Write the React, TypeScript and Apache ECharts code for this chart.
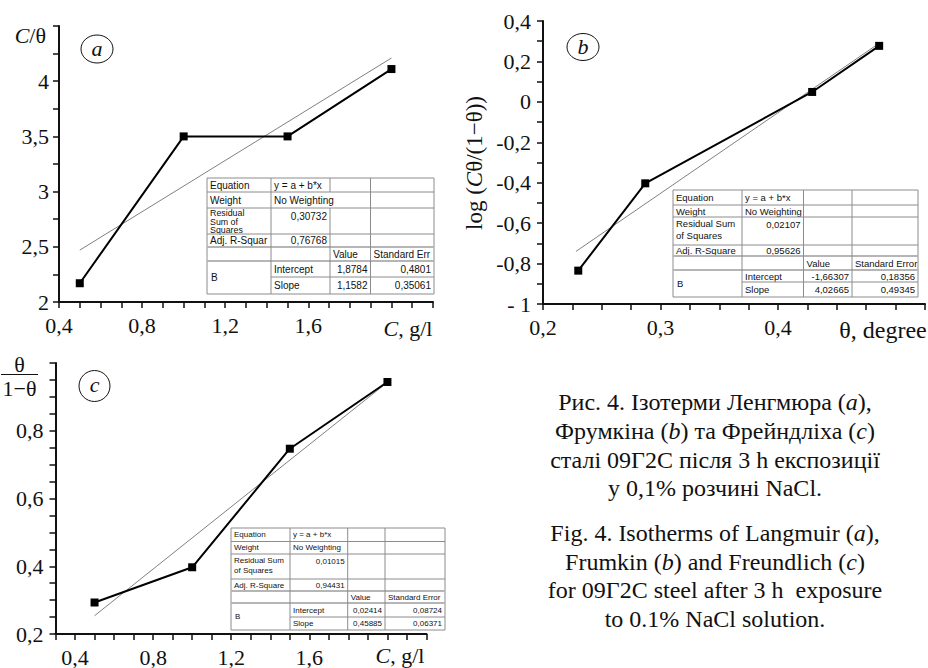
import React, { useEffect, useRef } from 'react';
import * as echarts from 'echarts';

// ---------- data: plot a (Langmuir) ----------
const aX = [0.5, 1.0, 1.5, 2.0];
const aY = [2.17, 3.5, 3.5, 4.11];
const aFitX = [0.5, 2.0];
const aFitY = [2.47, 4.21];
const aXTicks = [0.4, 0.8, 1.2, 1.6];
const aXTickLabels = ['0,4', '0,8', '1,2', '1,6'];
const aYTicks = [2, 2.5, 3, 3.5, 4];
const aYTickLabels = ['2', '2,5', '3', '3,5', '4'];

// ---------- data: plot b (Frumkin) ----------
const bX = [0.23, 0.287, 0.429, 0.486];
const bY = [-0.835, -0.403, 0.049, 0.277];
const bFitX = [0.228, 0.486];
const bFitY = [-0.74, 0.29];
const bXTicks = [0.2, 0.3, 0.4];
const bXTickLabels = ['0,2', '0,3', '0,4'];
const bYTicks = [-1, -0.8, -0.6, -0.4, -0.2, 0, 0.2, 0.4];
const bYTickLabels = ['- 1', '-0,8', '-0,6', '-0,4', '-0,2', '0', '0,2', '0,4'];

// ---------- data: plot c (Freundlich) ----------
const cX = [0.5, 1.0, 1.5, 2.0];
const cY = [0.293, 0.397, 0.747, 0.944];
const cFitX = [0.5, 2.0];
const cFitY = [0.254, 0.943];
const cXTicks = [0.4, 0.8, 1.2, 1.6];
const cXTickLabels = ['0,4', '0,8', '1,2', '1,6'];
const cYTicks = [0.2, 0.4, 0.6, 0.8];
const cYTickLabels = ['0,2', '0,4', '0,6', '0,8'];

// ---------- fit tables ----------
const tabHeadA = ['Equation', 'Weight', 'Residual\nSum of\nSquares', 'Adj. R-Squar'];
const tabValA = ['y = a + b*x', 'No Weighting', '0,30732', '0,76768'];
const tabColA = ['Value', 'Standard Err'];
const tabInterA = ['1,8784', '0,4801'];
const tabSlopeA = ['1,1582', '0,35061'];

const tabHeadB = ['Equation', 'Weight', 'Residual Sum\nof Squares', 'Adj. R-Square'];
const tabValB = ['y = a + b*x', 'No Weighting', '0,02107', '0,95626'];
const tabColB = ['Value', 'Standard Error'];
const tabInterB = ['-1,66307', '0,18356'];
const tabSlopeB = ['4,02665', '0,49345'];

const tabHeadC = ['Equation', 'Weight', 'Residual Sum\nof Squares', 'Adj. R-Square'];
const tabValC = ['y = a + b*x', 'No Weighting', '0,01015', '0,94431'];
const tabColC = ['Value', 'Standard Error'];
const tabInterC = ['0,02414', '0,08724'];
const tabSlopeC = ['0,45885', '0,06371'];

// ---------- caption ----------
const captionUa = [
  'Рис. 4. Ізотерми Ленгмюра ({i|a}),',
  'Фрумкіна ({i|b}) та Фрейндліха ({i|c})',
  'сталі 09Г2С після 3 h експозиції',
  'у 0,1% розчині NaCl.',
];
const captionEn = [
  'Fig. 4. Isotherms of Langmuir ({i|a}),',
  'Frumkin ({i|b}) and Freundlich ({i|c})',
  'for 09Г2С steel after 3 h  exposure',
  'to 0.1% NaCl solution.',
];

const SERIF = 'Liberation Serif';
const SANS = 'Liberation Sans';
const INK = '#111';

const pairs = (xs: number[], ys: number[]) => xs.map((x, i) => [x, ys[i]]);
const fmt = (ticks: number[], labels: string[]) => (v: number) => {
  const i = ticks.findIndex((t) => Math.abs(t - v) < 1e-6);
  return i >= 0 ? labels[i] : '';
};

const richI = (size: number) => ({
  i: { fontStyle: 'italic', fontSize: size, fontFamily: SERIF, fill: INK },
});

function txt(text: string, x: number, y: number, opts: any = {}) {
  const size = opts.size ?? 22;
  return {
    type: 'text',
    x,
    y,
    rotation: opts.rotation ?? 0,
    z: opts.z ?? 50,
    style: {
      text,
      fontSize: size,
      fontFamily: opts.family ?? SERIF,
      fontStyle: opts.italic ? 'italic' : 'normal',
      fill: INK,
      align: opts.align ?? 'center',
      verticalAlign: opts.va ?? 'middle',
      textAlign: opts.align ?? 'center',
      textVerticalAlign: opts.va ?? 'middle',
      lineHeight: opts.lineHeight,
      rich: richI(size),
    },
  };
}

function table(
  cols: number[],
  rows: number[],
  head: string[],
  val: string[],
  colHead: string[],
  inter: string[],
  slope: string[],
  fs: number,
  skipWeightLine: boolean
) {
  const [c0, c1, c2, c3, c4] = cols;
  const [r0, r1, r2, r3, r4, r5, r6, r7] = rows;
  const els: any[] = [];
  const lc = '#8c8c8c';
  const t = (s: string, x: number, y: number, align: string, va: string, size = fs, lh = fs + 2) =>
    txt(s, x, y, { size, family: SANS, align, va, z: 103, lineHeight: lh });
  const mid = (a: number, b: number) => (a + b) / 2;
  const nLines = head[2].split('\n').length;
  const lh2 = Math.min(fs + 2, (r3 - r2 - 1) / nLines);
  const fs2 = Math.min(fs, lh2 + 0.5);
  els.push({ type: 'rect', z: 100, shape: { x: c0, y: r0, width: c4 - c0, height: r7 - r0 }, style: { fill: '#fff' } });
  els.push(t(head[0], c0 + 3, mid(r0, r1), 'left', 'middle'));
  els.push(t(val[0], c1 + 3, mid(r0, r1), 'left', 'middle'));
  els.push(t(head[1], c0 + 3, mid(r1, r2), 'left', 'middle'));
  els.push(t(val[1], c1 + 3, mid(r1, r2), 'left', 'middle'));
  els.push(t(head[2], c0 + 3, r2 + 1, 'left', 'top', fs2, lh2));
  els.push(t(val[2], c2 - 3, r2 + 2, 'right', 'top'));
  els.push(t(head[3], c0 + 3, mid(r3, r4), 'left', 'middle'));
  els.push(t(val[3], c2 - 3, mid(r3, r4), 'right', 'middle'));
  els.push(t(colHead[0], c2 + 3, mid(r4, r5), 'left', 'middle'));
  els.push(t(colHead[1], c3 + 3, mid(r4, r5), 'left', 'middle'));
  els.push(t('B', c0 + 4, mid(r5, r7), 'left', 'middle'));
  els.push(t('Intercept', c1 + 3, mid(r5, r6), 'left', 'middle'));
  els.push(t(inter[0], c3 - 3, mid(r5, r6), 'right', 'middle'));
  els.push(t(inter[1], c4 - 3, mid(r5, r6), 'right', 'middle'));
  els.push(t('Slope', c1 + 3, mid(r6, r7), 'left', 'middle'));
  els.push(t(slope[0], c3 - 3, mid(r6, r7), 'right', 'middle'));
  els.push(t(slope[1], c4 - 3, mid(r6, r7), 'right', 'middle'));
  const ln = (x1: number, y1: number, x2: number, y2: number, w = 1, col = lc) => ({
    type: 'line', z: 104, shape: { x1, y1, x2, y2 }, style: { stroke: col, lineWidth: w },
  });
  els.push({ type: 'rect', z: 104, shape: { x: c0, y: r0, width: c4 - c0, height: r7 - r0 }, style: { fill: null, stroke: lc, lineWidth: 1 } });
  [r1, r2, r3].forEach((r) => els.push(ln(c0, r, c4, r)));
  els.push(ln(c0, r4, c4, r4, 2, '#b5b5b5'));
  els.push(ln(c0, r5, c4, r5, 2, '#b5b5b5'));
  els.push(ln(c1, r6, c4, r6));
  els.push(ln(c1, r0, c1, r7));
  if (skipWeightLine) {
    els.push(ln(c2, r0, c2, r1));
    els.push(ln(c2, r2, c2, r7));
  } else {
    els.push(ln(c2, r0, c2, r7));
  }
  els.push(ln(c3, r0, c3, r7));
  return els;
}

const axisBase = (labels: any) => ({
  type: 'value',
  axisLine: { show: true, onZero: false, lineStyle: { color: INK, width: 2 } },
  axisTick: { show: true, length: 6, lineStyle: { color: INK, width: 1.5 } },
  splitLine: { show: false },
  axisLabel: { color: INK, fontSize: 22, fontFamily: SERIF, ...labels },
});

export default function App() {
  const ref = useRef<HTMLDivElement>(null);
  useEffect(() => {
    if (!ref.current) return;
    const chart = echarts.init(ref.current, null, { renderer: 'svg' });

    const fitStyle = { color: '#808080', width: 1 };
    const dataSeries = (i: number, d: number[][]) => ({
      type: 'line', xAxisIndex: i, yAxisIndex: i, data: d,
      symbol: 'rect', symbolSize: 8, z: 3,
      itemStyle: { color: '#000' }, lineStyle: { color: '#000', width: 2 },
    });
    const fitSeries = (i: number, d: number[][]) => ({
      type: 'line', xAxisIndex: i, yAxisIndex: i, data: d,
      symbol: 'none', z: 2, lineStyle: fitStyle,
    });

    const graphics: any[] = [];
    graphics.push({ type: 'ellipse', shape: { cx: 97, cy: 49, rx: 16, ry: 14 }, style: { fill: null, stroke: INK, lineWidth: 1 } });
    graphics.push(txt('a', 97, 48, { italic: true }));
    graphics.push({ type: 'ellipse', shape: { cx: 583, cy: 47, rx: 16, ry: 13.5 }, style: { fill: null, stroke: INK, lineWidth: 1 } });
    graphics.push(txt('b', 583, 46, { italic: true }));
    graphics.push({ type: 'ellipse', shape: { cx: 94.5, cy: 386, rx: 15.5, ry: 15.5 }, style: { fill: null, stroke: INK, lineWidth: 1 } });
    graphics.push(txt('c', 94.5, 384, { italic: true }));
    graphics.push(txt('{i|C}/θ', 46, 35, { align: 'right' }));
    graphics.push(txt('{i|C}, g/l', 408, 328));
    graphics.push(txt('log ({i|C}θ/(1−θ))', 474, 163, { rotation: Math.PI / 2, size: 23 }));
    graphics.push(txt('θ, degree', 883, 330, { size: 24 }));
    graphics.push(txt('θ', 19.5, 364));
    graphics.push({ type: 'line', shape: { x1: 1, y1: 374.5, x2: 38, y2: 374.5 }, style: { stroke: INK, lineWidth: 1.2 } });
    graphics.push(txt('1−θ', 19.5, 388));
    graphics.push(txt('{i|C}, g/l', 400, 655));
    const capY1 = [401.5, 430.5, 459.5, 488];
    const capY2 = [533, 561.5, 590, 618.5];
    captionUa.forEach((s, k) => graphics.push(txt(s, 715, capY1[k], { size: 24 })));
    captionEn.forEach((s, k) => graphics.push(txt(s, 715, capY2[k], { size: 24 })));
    graphics.push(...table([207, 271, 330, 370.5, 434], [178, 192, 208, 234, 247, 261, 277, 294],
      tabHeadA, tabValA, tabColA, tabInterA, tabSlopeA, 10, true));
    graphics.push(...table([673, 742, 803.5, 852, 918], [190, 205, 217, 245, 256, 270, 282, 297],
      tabHeadB, tabValB, tabColB, tabInterB, tabSlopeB, 9.5, false));
    graphics.push(...table([231, 290, 347.7, 385, 445], [528, 541.5, 554, 579, 591, 603, 617, 630],
      tabHeadC, tabValC, tabColC, tabInterC, tabSlopeC, 8, false));

    chart.setOption({
      animation: false,
      backgroundColor: '#fff',
      grid: [
        { left: 59, top: 26, width: 374, height: 276 },
        { left: 543, top: 21, width: 384, height: 283 },
        { left: 55.5, top: 363, width: 371, height: 272 },
      ],
      xAxis: [
        { ...axisBase({ margin: 12, formatter: fmt(aXTicks, aXTickLabels) }), gridIndex: 0, min: 0.4, max: 2.2, interval: 0.1 },
        { ...axisBase({ margin: 12, formatter: fmt(bXTicks, bXTickLabels) }), gridIndex: 1, min: 0.2, max: 0.525, interval: 0.025 },
        { ...axisBase({ margin: 12, formatter: fmt(cXTicks, cXTickLabels) }), gridIndex: 2, min: 0.3, max: 2.2, interval: 0.1 },
      ],
      yAxis: [
        { ...axisBase({ margin: 10, formatter: fmt(aYTicks, aYTickLabels) }), gridIndex: 0, min: 2, max: 4.5, interval: 0.25 },
        { ...axisBase({ margin: 12, formatter: fmt(bYTicks, bYTickLabels) }), gridIndex: 1, min: -1, max: 0.4, interval: 0.1 },
        { ...axisBase({ margin: 12, formatter: fmt(cYTicks, cYTickLabels) }), gridIndex: 2, min: 0.2, max: 1.0, interval: 0.05 },
      ],
      series: [
        fitSeries(0, pairs(aFitX, aFitY)),
        dataSeries(0, pairs(aX, aY)),
        fitSeries(1, pairs(bFitX, bFitY)),
        dataSeries(1, pairs(bX, bY)),
        fitSeries(2, pairs(cFitX, cFitY)),
        dataSeries(2, pairs(cX, cY)),
      ],
      graphic: { elements: graphics },
    });
    return () => chart.dispose();
  }, []);
  return (
    <div
      ref={ref}
      style={{ position: 'fixed', left: 0, top: 0, width: 928, height: 668, background: '#fff' }}
    />
  );
}
